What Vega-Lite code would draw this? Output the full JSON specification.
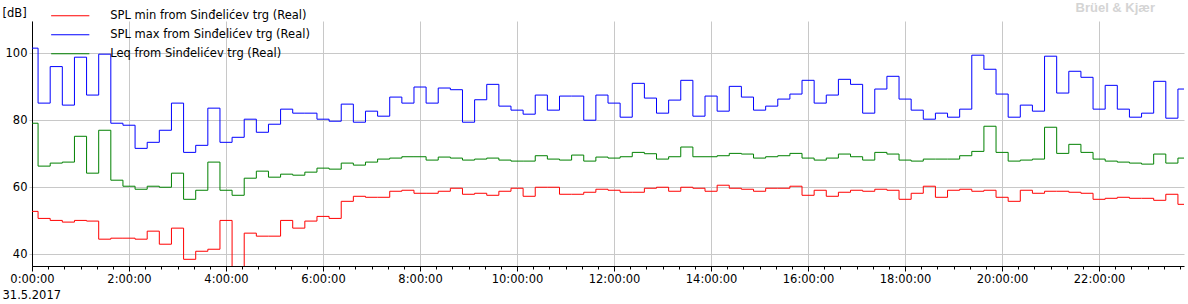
{
"width": 1152, "height": 245,
"autosize": {"type": "none"},
"padding": {"left": 32, "top": 21, "right": 4, "bottom": 38},
"background": "white",
"title": {"text": "Br\u00fcel & Kj\u00e6r", "anchor": "end", "frame": "group", "color": "#d4d4d4", "fontSize": 13, "font": "Liberation Sans", "fontWeight": "bold", "dx": -29, "dy": 12},
"config": {"view": {"stroke": null}, "font": "DejaVu Sans"},
"data": {"values": [
{"h":0,"min":52.8,"max":101.5,"leq":79.1},
{"h":0.25,"min":50.7,"max":85.1,"leq":66.3},
{"h":0.5,"min":50.1,"max":96.0,"leq":67.2},
{"h":0.75,"min":49.6,"max":84.5,"leq":67.5},
{"h":1,"min":50.1,"max":98.8,"leq":75.2},
{"h":1.25,"min":49.9,"max":87.5,"leq":64.2},
{"h":1.5,"min":44.5,"max":99.7,"leq":77.0},
{"h":1.75,"min":44.8,"max":79.1,"leq":62.1},
{"h":2,"min":44.8,"max":78.5,"leq":60.3},
{"h":2.25,"min":44.5,"max":71.6,"leq":59.4},
{"h":2.5,"min":46.9,"max":73.4,"leq":60.3},
{"h":2.75,"min":43.0,"max":77.0,"leq":60.0},
{"h":3,"min":47.8,"max":85.1,"leq":64.2},
{"h":3.25,"min":38.5,"max":70.4,"leq":56.4},
{"h":3.5,"min":40.9,"max":72.5,"leq":59.1},
{"h":3.75,"min":41.5,"max":83.6,"leq":67.5},
{"h":4,"min":50.1,"max":73.4,"leq":59.1},
{"h":4.25,"min":33.0,"max":74.9,"leq":57.6},
{"h":4.5,"min":46.3,"max":80.3,"leq":62.7},
{"h":4.75,"min":45.4,"max":76.4,"leq":64.8},
{"h":5,"min":45.4,"max":78.8,"leq":63.0},
{"h":5.25,"min":50.1,"max":83.3,"leq":63.9},
{"h":5.5,"min":47.8,"max":82.1,"leq":63.6},
{"h":5.75,"min":49.9,"max":82.1,"leq":64.5},
{"h":6,"min":51.3,"max":80.3,"leq":65.7},
{"h":6.25,"min":50.7,"max":79.7,"leq":65.4},
{"h":6.5,"min":55.8,"max":84.8,"leq":67.2},
{"h":6.75,"min":57.3,"max":79.4,"leq":66.6},
{"h":7,"min":57.0,"max":82.7,"leq":67.5},
{"h":7.25,"min":57.0,"max":81.2,"leq":68.4},
{"h":7.5,"min":58.8,"max":86.9,"leq":68.7},
{"h":7.75,"min":59.1,"max":85.1,"leq":69.1},
{"h":8,"min":58.2,"max":89.9,"leq":69.1},
{"h":8.25,"min":58.2,"max":85.1,"leq":68.1},
{"h":8.5,"min":58.8,"max":89.6,"leq":69.0},
{"h":8.75,"min":59.7,"max":89.1,"leq":68.7},
{"h":9,"min":57.9,"max":79.4,"leq":68.1},
{"h":9.25,"min":58.2,"max":86.1,"leq":68.4},
{"h":9.5,"min":57.6,"max":90.7,"leq":68.7},
{"h":9.75,"min":58.8,"max":84.2,"leq":68.1},
{"h":10,"min":59.7,"max":83.0,"leq":67.8},
{"h":10.25,"min":57.3,"max":81.8,"leq":67.8},
{"h":10.5,"min":60.0,"max":87.5,"leq":69.4},
{"h":10.75,"min":60.0,"max":83.0,"leq":68.4},
{"h":11,"min":57.9,"max":87.2,"leq":68.1},
{"h":11.25,"min":57.9,"max":87.2,"leq":69.6},
{"h":11.5,"min":58.5,"max":80.0,"leq":67.8},
{"h":11.75,"min":59.4,"max":87.5,"leq":69.0},
{"h":12,"min":59.1,"max":85.1,"leq":68.7},
{"h":12.25,"min":58.5,"max":80.9,"leq":69.1},
{"h":12.5,"min":58.5,"max":91.0,"leq":70.4},
{"h":12.75,"min":59.7,"max":86.6,"leq":70.0},
{"h":13,"min":60.0,"max":82.1,"leq":68.4},
{"h":13.25,"min":58.8,"max":86.0,"leq":69.1},
{"h":13.5,"min":60.0,"max":91.9,"leq":72.0},
{"h":13.75,"min":59.7,"max":81.2,"leq":69.1},
{"h":14,"min":58.8,"max":87.2,"leq":69.1},
{"h":14.25,"min":60.6,"max":82.7,"leq":69.4},
{"h":14.5,"min":59.7,"max":90.1,"leq":70.1},
{"h":14.75,"min":59.4,"max":86.9,"leq":69.9},
{"h":15,"min":58.8,"max":83.0,"leq":68.7},
{"h":15.25,"min":59.7,"max":84.2,"leq":69.1},
{"h":15.5,"min":59.7,"max":86.3,"leq":69.4},
{"h":15.75,"min":60.3,"max":87.8,"leq":70.1},
{"h":16,"min":57.6,"max":91.9,"leq":68.7},
{"h":16.25,"min":59.1,"max":85.1,"leq":68.1},
{"h":16.5,"min":57.3,"max":87.5,"leq":68.7},
{"h":16.75,"min":58.5,"max":92.2,"leq":69.9},
{"h":17,"min":59.1,"max":90.7,"leq":69.1},
{"h":17.25,"min":58.8,"max":82.1,"leq":68.1},
{"h":17.5,"min":59.4,"max":89.3,"leq":70.4},
{"h":17.75,"min":59.1,"max":93.1,"leq":69.9},
{"h":18,"min":56.4,"max":86.3,"leq":68.1},
{"h":18.25,"min":58.2,"max":83.0,"leq":67.8},
{"h":18.5,"min":60.3,"max":80.3,"leq":68.4},
{"h":18.75,"min":57.0,"max":82.1,"leq":68.4},
{"h":19,"min":59.1,"max":80.9,"leq":68.4},
{"h":19.25,"min":59.4,"max":83.3,"leq":69.4},
{"h":19.5,"min":58.8,"max":99.4,"leq":70.7},
{"h":19.75,"min":59.1,"max":95.2,"leq":78.2},
{"h":20,"min":57.0,"max":87.8,"leq":70.4},
{"h":20.25,"min":55.8,"max":80.9,"leq":67.8},
{"h":20.5,"min":59.1,"max":84.5,"leq":68.1},
{"h":20.75,"min":58.2,"max":82.7,"leq":68.4},
{"h":21,"min":58.8,"max":99.1,"leq":77.9},
{"h":21.25,"min":58.8,"max":88.1,"leq":70.1},
{"h":21.5,"min":58.5,"max":94.6,"leq":72.8},
{"h":21.75,"min":58.2,"max":92.8,"leq":70.4},
{"h":22,"min":56.4,"max":83.3,"leq":68.4},
{"h":22.25,"min":56.7,"max":90.4,"leq":67.8},
{"h":22.5,"min":57.0,"max":83.3,"leq":67.5},
{"h":22.75,"min":56.7,"max":80.9,"leq":67.2},
{"h":23,"min":56.7,"max":82.1,"leq":66.9},
{"h":23.25,"min":56.1,"max":91.6,"leq":69.9},
{"h":23.5,"min":57.9,"max":80.6,"leq":67.2},
{"h":23.75,"min":54.9,"max":89.3,"leq":68.7}
]},
"transform": [{"fold": ["min", "max", "leq"], "as": ["series", "dB"]}],
"layer": [
{
"mark": {"type": "line", "interpolate": "step", "strokeWidth": 1, "clip": true},
"encoding": {
"x": {"field": "h", "type": "quantitative",
 "scale": {"domain": [0, 23.75], "nice": false, "zero": false},
 "axis": {"values": [0, 2, 4, 6, 8, 10, 12, 14, 16, 18, 20, 22], "labelExpr": "datum.value + ':00:00'", "labelFlush": false, "labelOverlap": false, "labelFontSize": 11.5, "labelColor": "black", "labelPadding": 2, "tickSize": 5, "tickColor": "black", "domainColor": "black", "grid": true, "gridColor": "#c8c8c8", "title": "31.5.2017", "titleX": -30, "titleY": 29, "titleAlign": "left", "titleBaseline": "middle", "titleFontWeight": "normal", "titleFontSize": 11.5, "titleColor": "black"}},
"y": {"field": "dB", "type": "quantitative",
 "scale": {"domain": [36.5, 109.6], "nice": false, "zero": false},
 "axis": {"values": [40, 60, 80, 100], "grid": true, "gridColor": "#c8c8c8", "domainColor": "black", "tickSize": 3, "tickColor": "#c8c8c8", "labelPadding": 2, "labelFontSize": 11.5, "labelColor": "black", "title": "[dB]", "titleAngle": 0, "titleAlign": "left", "titleBaseline": "middle", "titleX": -30, "titleY": -8, "titleFontWeight": "normal", "titleFontSize": 11.5, "titleColor": "black"}},
"color": {"field": "series", "type": "nominal",
 "scale": {"domain": ["min", "max", "leq"], "range": ["#ff0000", "#0000ff", "#008000"]},
 "legend": {"orient": "none", "legendX": 0, "legendY": -11, "direction": "vertical", "title": null, "padding": 0, "rowPadding": 6, "symbolSize": 100, "symbolStrokeWidth": 1, "symbolOffset": 32.5, "labelOffset": 34.3, "labelFontSize": 11.5, "labelColor": "black", "labelLimit": 400, "symbolType": "M-3.82,0L3.82,0",
  "labelExpr": "datum.value == 'min' ? 'SPL min from Sin\u0111eli\u0107ev trg (Real)' : datum.value == 'max' ? 'SPL max from Sin\u0111eli\u0107ev trg (Real)' : 'Leq from Sin\u0111eli\u0107ev trg (Real)'"}}
}
},
{
"mark": {"type": "rule", "opacity": 0},
"encoding": {
"x": {"field": "h", "type": "quantitative",
 "axis": {"orient": "bottom", "values": [0,0.3333,0.6667,1,1.3333,1.6667,2,2.3333,2.6667,3,3.3333,3.6667,4,4.3333,4.6667,5,5.3333,5.6667,6,6.3333,6.6667,7,7.3333,7.6667,8,8.3333,8.6667,9,9.3333,9.6667,10,10.3333,10.6667,11,11.3333,11.6667,12,12.3333,12.6667,13,13.3333,13.6667,14,14.3333,14.6667,15,15.3333,15.6667,16,16.3333,16.6667,17,17.3333,17.6667,18,18.3333,18.6667,19,19.3333,19.6667,20,20.3333,20.6667,21,21.3333,21.6667,22,22.3333,22.6667,23,23.3333,23.6667], "labels": false, "grid": false, "domain": false, "ticks": true, "tickSize": 3, "tickColor": "black", "title": null}}
}
}
],
"resolve": {"axis": {"x": "independent"}}
}
